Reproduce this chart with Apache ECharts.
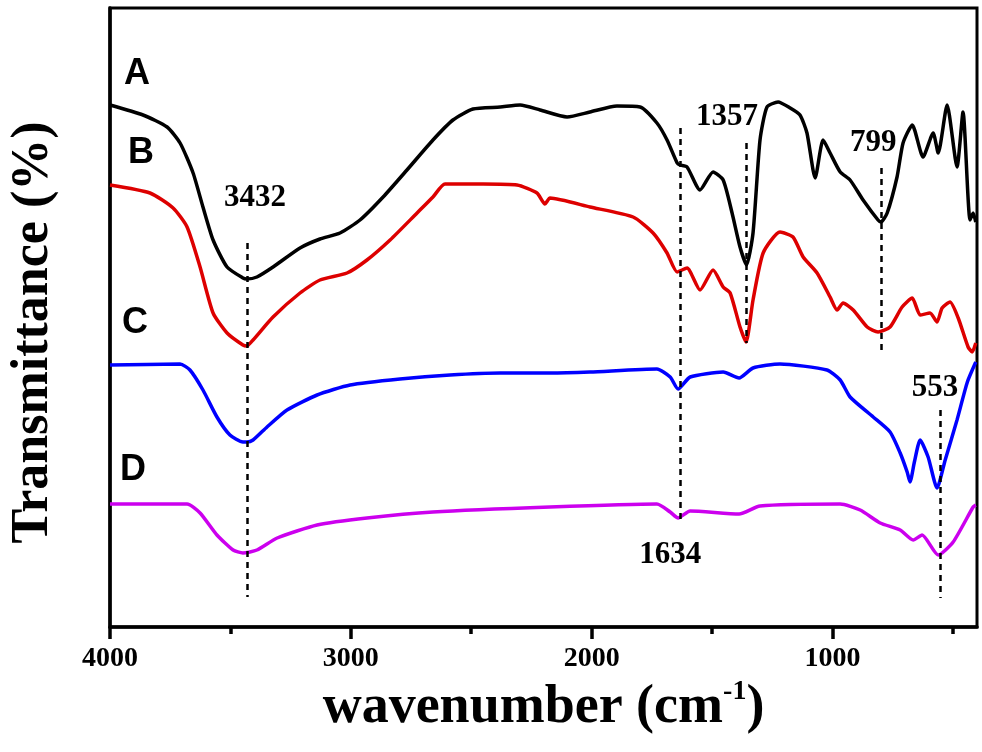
<!DOCTYPE html>
<html>
<head>
<meta charset="utf-8">
<script src="https://cdn.jsdelivr.net/npm/echarts@6/dist/echarts.min.js"></script>
<style>
  html, body { margin: 0; padding: 0; background: #fff; }
  #ftir { width: 982px; height: 752px; }
</style>
</head>
<body>
<div id="ftir"></div>
<script>
// spectra: [wavenumber, transmittance (a.u., offset traces)]
var curveA = [[4000,522],[3863,512],[3763,500],[3709,484],[3655,454],[3614,420],[3572,387],[3514,360],
  [3448,349],[3432,348],[3390,350],[3323,360],[3211,379],[3128,388],[3045,394],[2962,407],[2866,430],
  [2767,457],[2659,487],[2576,507],[2493,518],[2380,520],[2297,522],[2214,517],[2102,510],[2007,515],
  [1895,521],[1799,520],[1729,504],[1687,487],[1645,464],[1634,462],[1604,460],[1550,437],[1496,455],
  [1454,447],[1417,414],[1384,380],[1357,362],[1330,394],[1301,487],[1272,520],[1226,525],[1176,519],
  [1135,512],[1106,494],[1072,449],[1039,487],[1010,474],[968,455],[927,447],[873,427],[811,407],
  [799,405],[773,414],[732,450],[707,484],[669,502],[624,470],[582,494],[561,474],[524,522],[483,460],
  [458,515],[429,407],[416,414],[405,405]];
var curveB = [[4000,442],[3834,434],[3738,419],[3680,400],[3626,360],[3572,314],[3514,294],[3448,282],
  [3432,281],[3406,287],[3323,310],[3211,334],[3128,347],[3016,354],[2933,367],[2837,387],[2725,414],
  [2659,430],[2609,443],[2451,443],[2310,442],[2227,434],[2194,423],[2173,429],[2007,420],[1828,410],
  [1745,394],[1687,374],[1645,355],[1604,359],[1550,337],[1496,357],[1454,340],[1425,334],[1384,300],
  [1359,285],[1330,327],[1288,374],[1218,395],[1164,390],[1122,370],[1064,354],[1010,330],[981,317],
  [956,324],[914,317],[856,300],[811,295],[761,300],[711,320],[669,329],[636,312],[595,314],[566,305],
  [545,319],[512,325],[478,309],[437,280],[420,275],[405,284]];
var curveC = [[4000,262],[3709,263],[3668,257],[3614,237],[3556,210],[3502,192],[3448,185],[3432,185],
  [3406,187],[3348,200],[3265,217],[3140,232],[3003,242],[2796,248],[2588,252],[2380,254],[2173,254],
  [2007,255],[1729,258],[1674,250],[1641,238],[1591,250],[1454,255],[1388,249],[1330,259],[1218,263],
  [1023,257],[968,247],[927,230],[831,210],[761,195],[719,174],[690,155],[678,145],[660,165],[636,187],
  [603,170],[566,139],[532,167],[483,207],[440,245],[405,265]];
var curveD = [[4000,123],[3680,123],[3626,114],[3556,92],[3489,77],[3448,74],[3390,77],[3306,89],
  [3140,102],[2933,109],[2659,115],[2173,120],[1729,123],[1674,115],[1641,109],[1591,116],[1388,113],
  [1301,121],[968,123],[885,117],[802,104],[719,97],[665,87],[628,92],[561,72],[499,85],[416,120],[405,122]];

var seriesNames = ['A', 'B', 'C', 'D'];
var seriesColors = ['#000000', '#dd0000', '#0000ff', '#cc00ee'];
var curveLabelPos = [[3888,553],[3871,474],[3896,304],[3904,157]];

// marked bands: wavenumber, dashed line span and label anchor
var peakWn = [3432, 1634, 1357, 799, 553];
var peakLineTop = [384, 499, 484, 459, 217];
var peakLineBottom = [30, 107, 284, 272, 29];
var peakLabelPos = [[3398,429],[1674,72],[1438,510],[831,484],[574,239]];

var majorTicks = [4000, 3000, 2000, 1000];
var minorTicks = [3500, 2500, 1500, 500];

var myChart = echarts.init(document.getElementById('ftir'));

var serif = 'Liberation Serif';
var curves = [curveA, curveB, curveC, curveD];

var series = curves.map(function (c, i) {
  return {
    name: seriesNames[i],
    type: 'line',
    data: c,
    symbol: 'none',
    smooth: 0.2,
    lineStyle: { color: seriesColors[i], width: 3.5 },
    z: 3
  };
});

// dashed guides
series.push({
  type: 'line',
  data: [],
  markLine: {
    silent: true,
    symbol: 'none',
    label: { show: false },
    lineStyle: { color: '#000', type: [6, 5], width: 2.5 },
    data: peakWn.map(function (w, i) {
      return [{ coord: [w, peakLineTop[i]] }, { coord: [w, peakLineBottom[i]] }];
    })
  }
});

// curve letters
series.push({
  type: 'scatter',
  symbolSize: 1,
  itemStyle: { color: 'rgba(0,0,0,0)', opacity: 1 },
  data: curveLabelPos.map(function (p, i) { return [p[0], p[1], seriesNames[i]]; }),
  label: {
    show: true, position: 'inside',
    formatter: function (d) { return d.value[2]; },
    fontFamily: 'Liberation Sans', fontWeight: 'bold', fontSize: 36, color: '#000'
  },
  z: 5
});

// peak numbers
series.push({
  type: 'scatter',
  symbolSize: 1,
  itemStyle: { color: 'rgba(0,0,0,0)', opacity: 1 },
  data: peakLabelPos.map(function (p, i) { return [p[0], p[1], String(peakWn[i])]; }),
  label: {
    show: true, position: 'inside',
    formatter: function (d) { return d.value[2]; },
    fontFamily: serif, fontWeight: 'bold', fontSize: 31, color: '#000'
  },
  z: 5
});

var option = {
  animation: false,
  backgroundColor: '#fff',
  grid: {
    left: 110, right: 5, top: 8, bottom: 125,
    show: true, borderColor: '#000', borderWidth: 3
  },
  xAxis: [
    {
      type: 'value',
      min: 400, max: 4000,
      inverse: true,
      position: 'bottom',
      axisLine: { show: true, lineStyle: { color: '#000', width: 3.5 } },
      axisTick: { show: true, inside: false, length: 12, customValues: majorTicks, lineStyle: { width: 3.5 } },
      axisLabel: {
        customValues: majorTicks,
        formatter: function (v) { return String(v); },
        margin: 18,
        fontFamily: serif, fontWeight: 'bold', fontSize: 28, color: '#000'
      },
      splitLine: { show: false },
      name: '{t|wavenumber (cm}{s|-1}{t|)}',
      nameLocation: 'middle',
      nameGap: 44,
      nameTextStyle: {
        rich: {
          t: { fontFamily: serif, fontWeight: 'bold', fontSize: 54, color: '#000', lineHeight: 60 },
          s: { fontFamily: serif, fontWeight: 'bold', fontSize: 28, color: '#000', lineHeight: 60, verticalAlign: 'top' }
        }
      }
    },
    {
      type: 'value',
      min: 400, max: 4000,
      inverse: true,
      position: 'bottom',
      axisLine: { show: false },
      axisTick: { show: true, inside: false, length: 7, customValues: minorTicks, lineStyle: { color: '#000', width: 3.5 } },
      axisLabel: { show: false },
      splitLine: { show: false }
    }
  ],
  yAxis: {
    type: 'value',
    min: 0, max: 619,
    axisLine: { show: true, lineStyle: { color: '#000', width: 3.5 } },
    axisTick: { show: false },
    axisLabel: { show: false },
    splitLine: { show: false },
    name: 'Transmittance (%)',
    nameLocation: 'middle',
    nameGap: 50,
    nameTextStyle: { fontFamily: serif, fontWeight: 'bold', fontSize: 52, color: '#000', padding: [0, 30, 0, 0] }
  },
  series: series
};

myChart.setOption(option);
</script>
</body>
</html>
